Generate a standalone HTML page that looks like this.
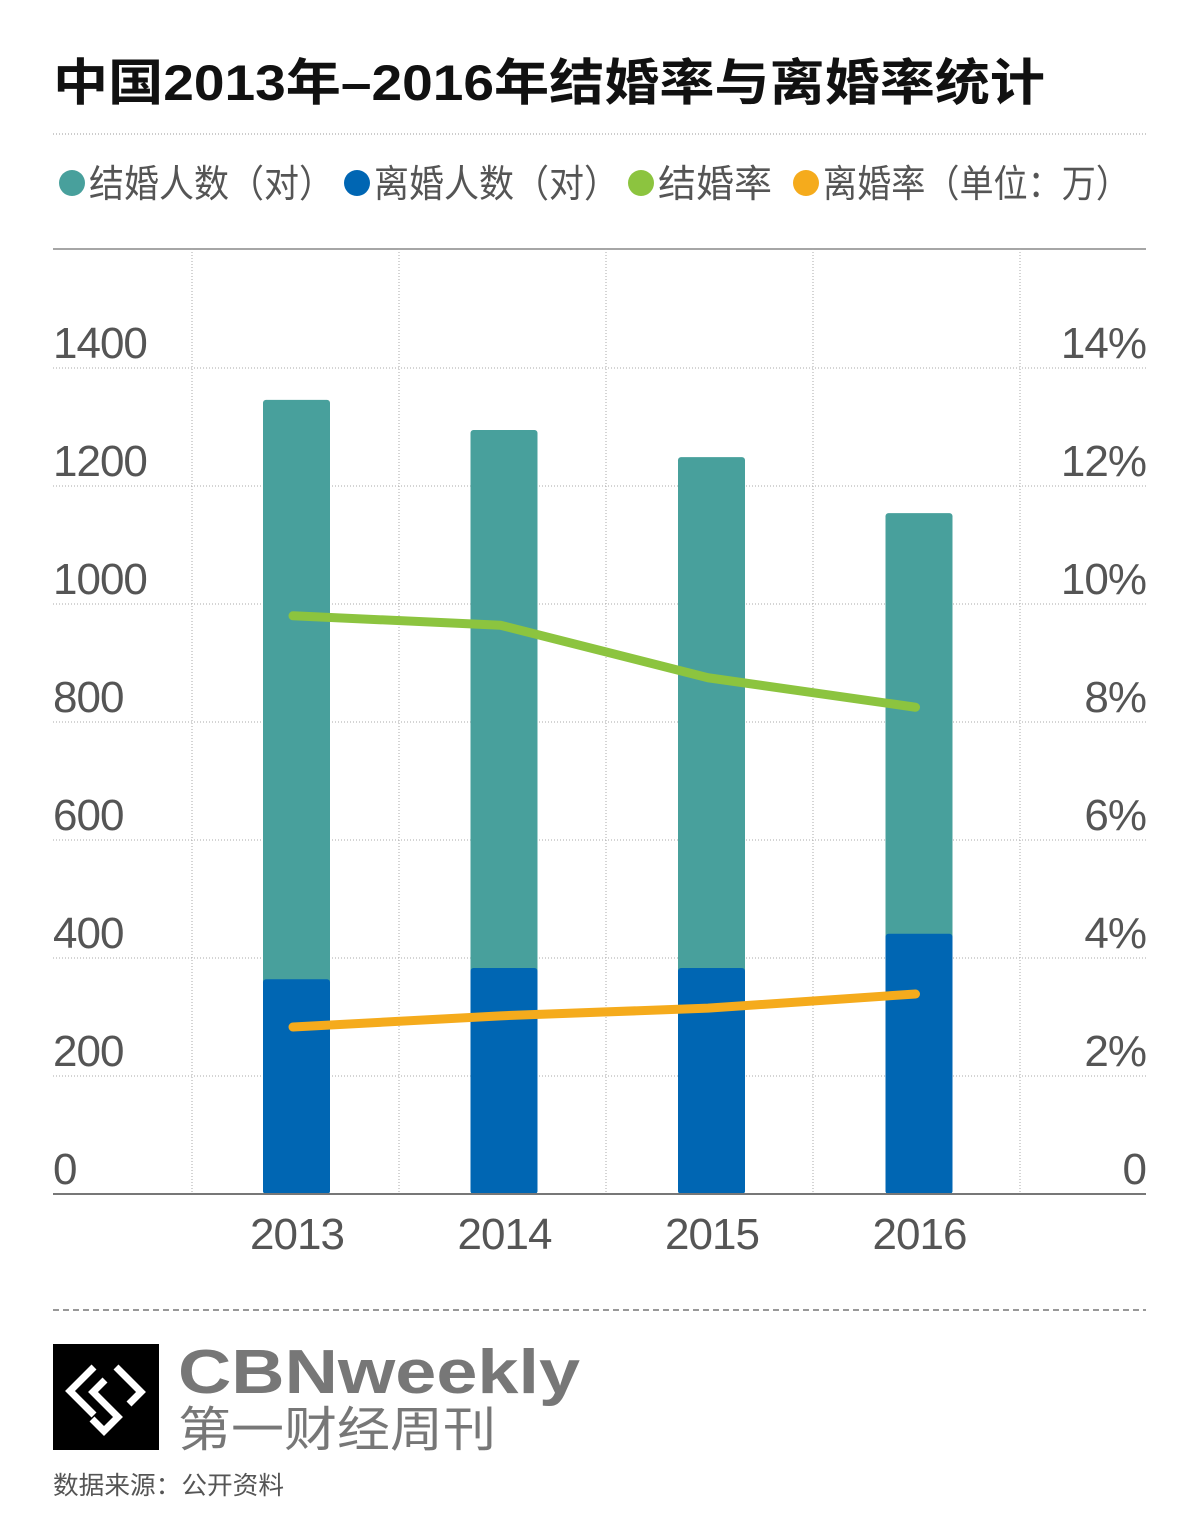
<!DOCTYPE html>
<html><head><meta charset="utf-8"><style>
body{margin:0;background:#fff;width:1200px;height:1531px;overflow:hidden;font-family:"Liberation Sans","Noto Sans CJK SC",sans-serif}
</style></head><body>
<svg id="c" width="1200" height="1531" xmlns="http://www.w3.org/2000/svg" style="font-family:'Liberation Sans','Noto Sans CJK SC',sans-serif">
<text x="53" y="100" font-size="50" font-weight="bold" fill="#111" textLength="992" lengthAdjust="spacingAndGlyphs">中国2013年–2016年结婚率与离婚率统计</text>
<line x1="53" y1="134" x2="1146" y2="134" stroke="#999" stroke-dasharray="1,2"/>
<g id="legend" font-size="38" fill="#555">
<circle cx="72" cy="183" r="13" fill="#48a09c"/>
<text x="89" y="197" textLength="245" lengthAdjust="spacingAndGlyphs">结婚人数（对）</text>
<circle cx="357" cy="183" r="13" fill="#0066b3"/>
<text x="374" y="197" textLength="245" lengthAdjust="spacingAndGlyphs">离婚人数（对）</text>
<circle cx="641" cy="183" r="13" fill="#8cc43f"/>
<text x="658" y="197">结婚率</text>
<circle cx="806" cy="183" r="13" fill="#f5ab1c"/>
<text x="823" y="197" textLength="307" lengthAdjust="spacingAndGlyphs">离婚率（单位：万）</text>
</g>
<line x1="53" y1="249" x2="1146" y2="249" stroke="#888" stroke-width="1.5"/>
<g id="grid"></g><g id="bars"></g><g id="lines"></g><g id="axes"></g>
<line x1="53" y1="1194" x2="1146" y2="1194" stroke="#777" stroke-width="2"/>
<line x1="53" y1="1310" x2="1146" y2="1310" stroke="#777" stroke-width="1.5" stroke-dasharray="6,4"/>
<g>
<rect x="53" y="1344" width="106" height="106" fill="#000"/>
<path d="M94 1367 L70 1391 L94 1415 M105 1380 L93 1392 L118 1417 L104 1431 L92 1419 M116 1367 L141 1392 L129 1404" stroke="#fff" stroke-width="7" fill="none"/>
<text x="178" y="1393" font-size="62" font-weight="bold" fill="#777" textLength="402" lengthAdjust="spacingAndGlyphs">CBNweekly</text>
<text x="178" y="1446" font-size="48" fill="#777" textLength="318" lengthAdjust="spacingAndGlyphs">第一财经周刊</text>
</g>
<text x="53" y="1494" font-size="25" fill="#555" textLength="231" lengthAdjust="spacingAndGlyphs">数据来源：公开资料</text>
</svg>
<script>
const years=["2013","2014","2015","2016"];
const marriages=[1346,1295,1249,1154];
const divorces=[364,383,383,441];
const marriageRate=[9.8,9.64,8.75,8.25];
const divorceRate=[2.83,3.02,3.15,3.39];
const leftTicks=[0,200,400,600,800,1000,1200,1400];
const rightTicks=["0","2%","4%","6%","8%","10%","12%","14%"];
const NS="http://www.w3.org/2000/svg";
const y0=1194,y1=368;
const yL=v=>y0-(v/1400)*(y0-y1);
const yR=v=>y0-(v/14)*(y0-y1);
const xC=i=>297+i*207.5;
function mk(t,a,p){const e=document.createElementNS(NS,t);for(const k in a)e.setAttribute(k,a[k]);p.appendChild(e);return e;}
const grid=document.getElementById('grid'),bars=document.getElementById('bars'),lines=document.getElementById('lines'),axes=document.getElementById('axes');
leftTicks.forEach((v,i)=>{
 const y=yL(v);
 if(i>0){const l=mk('line',{x1:53,x2:1146,y1:y,y2:y,stroke:'#aaa','stroke-dasharray':'1,2'},grid);
 
 }
 const t=mk('text',{x:53,y:y-10,'font-size':44,fill:'#555','letter-spacing':'-1'},axes);t.textContent=v;
 
 
 const r=mk('text',{x:1146,y:y-10,'font-size':44,fill:'#555','text-anchor':'end','letter-spacing':'-1'},axes);r.textContent=rightTicks[i];
 
 
});
for(let k=0;k<5;k++){const x=192+k*207;const l=mk('line',{x1:x,x2:x,y1:249,y2:1194,stroke:'#aaa','stroke-dasharray':'1,2'},grid);
 
 }
years.forEach((yr,i)=>{
 const x=xC(i)-34;
 const b=mk('rect',{x:x,y:yL(marriages[i]),width:67,height:y0-yL(marriages[i]),fill:'#48a09c',rx:3},bars);
 
 
 const d=mk('rect',{x:x,y:yL(divorces[i]),width:67,height:y0-yL(divorces[i]),fill:'#0066b3',rx:3},bars);
 
 
 const t=mk('text',{x:xC(i),y:1249,'font-size':44,fill:'#555','text-anchor':'middle','letter-spacing':'-1'},axes);t.textContent=yr;
 
 
});
const p1=mk('polyline',{points:marriageRate.map((v,i)=>(xC(i)-4)+','+yR(v)).join(' '),fill:'none',stroke:'#8cc43f','stroke-width':9,'stroke-linecap':'round','stroke-linejoin':'round'},lines);


const p2=mk('polyline',{points:divorceRate.map((v,i)=>(xC(i)-4)+','+yR(v)).join(' '),fill:'none',stroke:'#f5ab1c','stroke-width':9,'stroke-linecap':'round','stroke-linejoin':'round'},lines);


</script>
</body></html>
